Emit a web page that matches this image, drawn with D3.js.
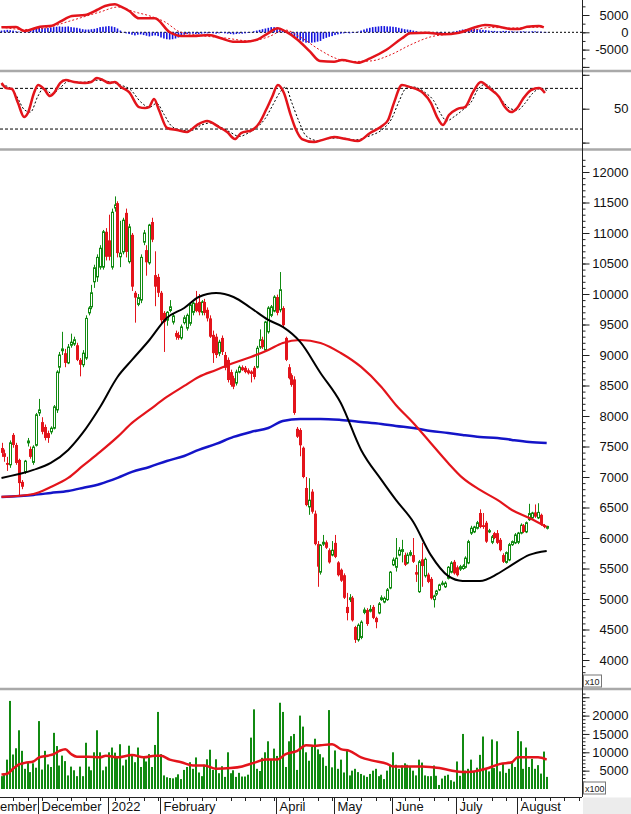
<!DOCTYPE html>
<html><head><meta charset="utf-8">
<script src="https://cdn.jsdelivr.net/npm/d3@7"></script>
<style>
body{margin:0;background:#fff}
svg{display:block}
text{font-family:"Liberation Sans",Arial,sans-serif}
</style>
</head><body>
<svg id="c" width="631" height="814"></svg>
<script>
// ---------- DATA ----------
const open=[7475,7390,7230,7200,7690,7525,7280,6920,7080,7560,7460,7240,7520,8050,7900,7820,7720,7740,7800,8100,8800,9070,9030,8870,9160,9180,9160,8920,8840,8950,9690,9790,10200,10280,10440,10440,11020,10880,10440,11410,11490,10610,10690,11330,10530,10970,10020,9830,9900,10850,10720,10510,11180,10310,10280,10020,9690,9570,9730,9540,9360,9330,9280,9530,9440,9520,9700,9850,9870,9700,9870,9740,9600,9330,9300,9030,9280,9000,8920,8720,8620,8540,8720,8800,8790,8750,8730,8790,8800,9130,9250,9080,9380,9650,9720,9950,9740,9770,9280,8800,8670,8600,7790,7770,7480,6820,6510,6760,6400,5900,5440,5900,5930,5800,5720,5920,5600,5480,5390,4870,4990,5020,4540,4330,4370,4780,4820,4800,4870,4690,4770,4990,4950,4990,5180,5560,5520,5720,5780,5720,5590,5720,5720,5440,5120,5650,5380,5400,5330,4990,5080,5150,5240,5200,5340,5440,5610,5520,5490,5500,5520,5590,6080,6100,6160,6410,6210,6250,6100,5930,6080,6080,5970,5720,5600,5640,5890,5920,5930,6080,6210,6100,6300,6330,6420,6330,6380,6210,6160];
const high=[7560,7450,7330,7600,7720,7560,7300,6950,7280,7640,7500,7520,8050,8280,7980,7860,7760,7830,8180,8750,9050,9380,9100,9180,9350,9300,9200,8950,9080,9650,9800,10150,10480,10650,10800,11050,11080,11300,11400,11600,11520,11200,11250,11400,11150,11000,10050,10000,10650,11050,10800,11150,11250,10700,10330,10050,9720,9720,9900,9680,9400,9380,9500,9650,9680,9850,9870,10050,10000,9900,9920,9780,9650,9400,9350,9250,9320,9050,8960,8760,8660,8760,8830,8830,8820,8780,8750,8820,9150,9420,9300,9560,9800,9820,9980,9990,10360,9800,9300,8850,8700,8650,7820,7800,7500,7000,6980,6800,6450,5950,5900,6050,5960,5830,5950,6050,5620,5500,5420,5100,5080,5050,4560,4600,4650,4860,4850,4900,4900,4710,4950,5060,5040,5180,5460,5680,6000,5850,5970,5760,5760,5800,6000,5560,5640,5920,5680,5430,5360,5070,5150,5250,5300,5290,5540,5620,5640,5550,5560,5570,5700,5970,6200,6200,6280,6470,6410,6280,6150,6050,6100,6130,6000,5750,5780,5920,5960,6080,6100,6240,6230,6270,6560,6430,6550,6570,6400,6230,6200];
const low=[7330,7250,7100,7150,7480,7200,6700,6800,7050,7500,7300,7200,7500,8000,7700,7600,7560,7700,7780,8050,8700,9000,8800,8850,9120,9150,8900,8650,8800,8920,9650,9750,10100,10200,10400,10400,10550,10550,10400,11350,10600,10440,10650,10600,10500,10050,9530,9800,9850,10800,10300,10480,10850,9800,9950,9500,9050,9480,9700,9500,9250,9250,9250,9500,9400,9480,9650,9700,9650,9650,9650,9550,9280,8870,8950,8980,9000,8750,8550,8480,8440,8500,8700,8740,8700,8680,8550,8600,8780,9100,9100,9050,9350,9620,9700,9650,9700,9450,8900,8600,8480,8020,7640,7340,6980,6520,6380,6400,5880,5200,5400,5870,5820,5580,5700,5670,5370,5280,5000,4650,4950,4630,4280,4300,4340,4750,4560,4780,4670,4520,4750,4970,4930,4970,5160,5540,5450,5700,5600,5540,5570,5700,5590,5280,5100,5200,5350,5260,4990,4860,5050,5130,5220,5180,5320,5420,5400,5370,5460,5480,5500,5570,6050,6080,6140,6160,6150,5920,6080,5900,5980,5900,5780,5590,5580,5620,5870,5900,5900,6060,6080,6080,6280,6310,6330,6310,6200,6160,6140];
const close=[7395,7330,7200,7560,7525,7230,6900,6840,7260,7590,7330,7490,8020,8100,7740,7640,7640,7800,8150,8720,9000,9100,8870,9130,9210,9250,8920,8840,9030,9600,9770,10020,10430,10600,10750,11020,10610,10610,11340,11460,10670,10670,11210,10690,11100,10120,9940,9940,10600,11000,10520,11130,10890,10120,10020,9570,9540,9700,9790,9640,9300,9280,9460,9610,9650,9820,9850,9720,9700,9870,9690,9600,9300,9030,9000,9210,9050,8790,8590,8510,8480,8720,8800,8750,8720,8700,8690,8640,9110,9250,9130,9540,9770,9790,9950,9690,10070,9490,8920,8620,8510,8050,7660,7520,7000,6540,6620,6430,5900,5530,5880,5930,5840,5600,5800,5690,5390,5300,5020,4770,5020,4650,4330,4570,4620,4820,4590,4830,4690,4620,4920,5020,5010,5150,5440,5640,5670,5800,5810,5560,5720,5760,5610,5400,5610,5540,5650,5280,5010,5050,5130,5230,5260,5260,5520,5590,5420,5390,5530,5540,5670,5940,6160,6180,6250,6180,6180,5940,6120,6020,6000,5920,5800,5610,5760,5890,5940,6050,6080,6210,6100,6250,6400,6410,6350,6420,6220,6180,6190];
const volume=[3500,4200,8000,24000,9400,11100,16000,10400,5500,7300,4600,7000,5800,18500,
5300,10400,6700,6000,15300,11700,6400,9100,7600,3700,6100,5100,3500,6100,3500,12600,6100,5100,10000,16000,10000,5100,6100,
10000,11300,9900,8600,12200,6400,8000,11800,9500,7300,11300,6000,8500,7500,9500,6000,12000,21000,
9500,3700,3200,3000,2900,3200,4000,2700,5200,6000,7300,5500,8600,4500,3500,6600,8100,10700,5200,8100,4300,
6200,3300,10000,4300,5100,3300,4400,3400,3400,3900,14000,21700,5500,4900,8500,10000,13000,8000,11000,
9000,23500,21000,6000,13000,14400,15000,5200,20000,17000,10000,7700,11500,13700,10800,9500,8600,6300,21500,5900,
10500,5500,8000,4500,10500,3700,5000,5500,4600,4100,3700,3300,4100,5000,5500,3500,3900,2700,5000,6600,
10000,6600,5500,6400,7000,6600,6000,5000,3700,8000,7200,3700,3500,3500,6400,3600,1100,2850,3600,3900,2400,2000,
7500,3600,15000,5000,5500,8000,4800,5800,9300,14300,5700,4800,13500,5700,13000,4800,7000,4400,5500,7500,6000,
15800,13000,5500,11300,6000,8200,5500,6500,4200,10200,3300];
// moving averages, read at these bar indices
const maIdx=[0,11,17,23,28,34,40,45,51,57,63,68,74,80,86,92,97,103,110,117,124,131,136,142,148,154,159,165,171,176,182,188];
const ma50=[6985,7116,7231,7444,7722,8148,8640,8919,9246,9607,9771,9951,10017,9951,9771,9574,9460,9214,8706,8214,7444,6952,6624,6263,5723,5378,5296,5296,5411,5559,5723,5788];
const ma100=[6673,6722,6837,6985,7181,7411,7657,7886,8099,8312,8493,8640,8755,8870,8968,9083,9197,9246,9197,9033,8804,8476,8181,7886,7558,7231,6985,6788,6624,6460,6329,6182];
const ma200=[6673,6706,6739,6772,6821,6886,6985,7083,7165,7263,7345,7444,7542,7657,7739,7804,7919,7952,7952,7935,7903,7870,7837,7804,7755,7722,7690,7657,7640,7608,7575,7558];
const volMaIdx=[0,2,4,6,8,11,13,16,18,20,22,24,26,30,34,36,40,45,49,53,55,58,62,66,70,74,79,83,87,91,95,98,102,105,108,110,114,117,120,124,128,133,135,140,145,151,155,159,163,167,172,176,178,183,185,188];
const volMa=[3920,4170,5520,6680,7120,7480,8630,9080,9520,10400,10850,9520,8810,8810,8630,9080,8630,9260,8630,9080,9080,8010,7300,6410,6410,5520,5700,6140,7120,8010,8010,9520,10400,11900,11750,11900,12200,10850,10400,8630,7740,6850,6140,6140,6140,5700,5070,4620,4800,5520,6850,7300,8630,8630,8630,8010];
// MACD
const macdIdx=[0,5,7.8,13.3,17.4,20.2,24.3,28.8,32.9,35.7,39.1,41.2,44,47.4,52.9,57.8,61.9,66,71.6,75.7,79.8,84,88.4,91.9,95.3,98.1,102.2,106.4,109.8,114.7,117.4,122.9,127.1,132.6,138.1,140.9,146.7,152.2,157.8,163.3,166.7,171.6,175.7,178.4,181.2,185.3,187];
const macdLine=[1445,1532,376,1618,1907,3063,4711,5000,6445,7601,8092,7398,6156,4046,4046,173,-1069,-1069,-780,-1734,-2717,-2717,-2023,-289,1156,173,-2225,-5607,-8294,-8497,-8005,-8786,-7514,-5115,-1734,-289,-116,-578,-116,1445,2110,1618,954,954,1618,1821,1445];
const signalIdx=[0,7.8,15,23.6,34,40.2,46,51.2,56.4,61.6,68.4,77.1,85.7,91.9,97.8,103,109.8,115,120.2,127.1,134,140.9,147.8,154.7,161.6,168.4,175.3,182.2,187];
const signalLine=[1532,809,1243,3266,5867,7312,5867,4711,2977,87,-925,-1647,-2514,-1358,665,-1358,-5115,-7427,-8439,-8294,-6560,-3670,-1358,-491,376,1387,1243,1387,1532];
const macdHist=[500,600,700,600,500,300,200,0,-150,100,400,900,1100,1300,1300,1200,1300,1400,
1500,1600,1700,1600,1600,1700,1500,1400,1300,1100,900,800,800,900,1000,1200,1500,1600,1700,1800,1700,1500,1100,
500,100,-300,-500,-700,-900,-700,-600,-800,-1000,-1200,-1000,-900,-1100,-1500,-1800,-2000,-2100,-2000,-1800,-1500,-1200,
-700,-500,-400,-400,-500,-500,-400,-300,-300,-200,-300,-400,-300,-200,-300,-400,-500,-600,-500,-400,-400,-300,-200,
100,300,500,700,900,1100,1300,1500,1500,1400,1200,700,100,-500,-900,-1300,-1700,-2300,-2700,-3000,-3100,-3000,-2900,-2700,-2500,
-1900,-1600,-1300,-1100,-800,-600,-400,-300,-200,-300,-200,-100,200,500,800,1100,1300,1500,1600,1700,
1800,1800,1700,1700,1600,1500,1300,1100,900,800,700,500,300,100,-200,-300,-400,-500,-400,-300,-200,
-100,-100,0,100,200,400,600,800,900,1000,1100,1000,900,800,700,600,500,400,400,300,300,400,400,
300,300,200,200,300,300,200,200,300,300,200,200,100,100];
// Stochastic
const stochKIdx=[0,1.6,3.6,5.7,7.8,9.1,11.2,12.6,14.7,16.7,18.1,20.2,22.2,25,28.8,30.9,32.9,35,37.1,39.1,41.2,44,47.4,49.5,50.9,52.6,54.3,57.1,60.5,64,67.4,70.9,75,77.8,80.5,82.6,86.4,89.1,91.2,93.3,95.3,97.4,99.5,101.6,103.6,107.8,110.5,114.7,118.8,122.9,127.1,131.2,133.3,135.3,138.1,140.9,145.4,148.1,150.2,152.2,154.3,157.1,159.8,162.6,165.3,168.1,171.6,173.6,175.7,177.8,179.8,182.6,185.3,187.4];
const stochK=[87.8,80.4,79,58.3,37.7,43.6,73.1,84.9,79,68.6,73.1,87.8,92.2,89.3,87.8,89.3,95.2,92.2,87.8,89.3,81.9,74.5,52.4,50.9,52.4,64.2,48,21.5,18.5,15.6,25.9,31.8,22.9,15.6,5.2,14.1,18.5,30.3,48,67.2,84.9,73.1,43.6,18.5,5.2,0.8,3.7,8.2,5.2,2.3,14.1,24.4,33.3,58.3,84.9,81.9,73.1,58.3,37.7,25.9,40.6,49.5,52.4,74.5,89.3,80.4,67.2,52.4,45,50.9,64.2,77.5,80.4,73.1];
const stochDIdx=[0,2.5,5,8,10,12.5,14.5,17.5,20,23,28,33,37,41,44.5,48,51,53.5,56,58.5,62,65.5,69,72,76,79,82,85,88,91,93.5,96,98,100,102.5,105,109,113,117,122,127,131.5,134.5,137,139.5,142,146,149,151.5,153.5,156,159,162,164.5,167,170,173,175.5,178,180.5,183,186,188];
const stochD=[85,82,70,48,45,68,80,72,80,90,89,92,90,85,78,60,52,58,42,25,18,18,26,29,22,15,9,14,22,36,55,74,82,60,32,10,3,6,7,4,10,20,35,60,80,82,74,62,42,32,38,48,60,80,86,76,60,50,48,58,72,80,77];
// axis ticks & labels
const priceTicks=[4000,4500,5000,5500,6000,6500,7000,7500,8000,8500,9000,9500,10000,10500,11000,11500,12000];
const volTicks=[5000,10000,15000,20000];
const macdTicks=[-5000,0,5000];
const stochTicks=[50];
// first label is the visible tail of the month name cut by the left edge
const monthLabels=["ember","December","2022","February","April","May","June","July","August"];
const monthStart=[-9,13,37,55,95,115,135,157,178];

// ---------- CHART ----------
const svg=d3.select("#c");
const W=631, axisX=582, red="#e3141b", green="#118a11";
const n=open.length;
const x=d3.scaleLinear().domain([0,n-1]).range([1.5,1.5+2.9*(n-1)]);
const yP=d3.scaleLinear().domain([4000,12000]).range([660,172]);
const yV=d3.scaleLinear().domain([0,20000]).range([789,715.6]);
const yM=d3.scaleLinear().domain([-5000,5000]).range([49.6,15]);
const yS=d3.scaleLinear().domain([0,100]).range([142.6,74.8]);

const defs=svg.append("defs");
function clip(id,y0,y1){defs.append("clipPath").attr("id",id).append("rect").attr("x",0).attr("y",y0).attr("width",axisX).attr("height",y1-y0);}
clip("cm",0,70);clip("cs",73,148);clip("cp",151,688);clip("cv",691,796);

// panel separators
[[71,"#a9a9a9",2.5],[149.5,"#a9a9a9",2.5],[689,"#a9a9a9",2.5]].forEach(([y,c,w])=>
  svg.append("line").attr("x1",0).attr("x2",W).attr("y1",y).attr("y2",y).attr("stroke",c).attr("stroke-width",w));
svg.append("rect").attr("x",axisX+1).attr("y",797.5).attr("width",W-axisX).attr("height",17).attr("fill","#ececec");

// ---- MACD panel ----
const gM=svg.append("g").attr("clip-path","url(#cm)");
gM.append("line").attr("x1",0).attr("x2",axisX).attr("y1",yM(0)).attr("y2",yM(0)).attr("stroke","#000").attr("stroke-dasharray","2,2");
gM.selectAll("rect.h").data(macdHist).join("rect").attr("class","h")
  .attr("x",(d,i)=>x(i)-0.8).attr("width",1.6)
  .attr("y",d=>Math.min(yM(d),yM(0))).attr("height",d=>Math.abs(yM(d)-yM(0)))
  .attr("fill","#1515e0");
const lineXY=(xs,sc)=>d3.line().x((d,i)=>x(xs[i])).y(d=>sc(d)).curve(d3.curveMonotoneX);
gM.append("path").attr("d",lineXY(signalIdx,yM)(signalLine)).attr("fill","none").attr("stroke",red).attr("stroke-width",1).attr("stroke-dasharray","2,2");
gM.append("path").attr("d",lineXY(macdIdx,yM)(macdLine)).attr("fill","none").attr("stroke",red).attr("stroke-width",2.5);

// ---- Stochastic panel ----
const gS=svg.append("g").attr("clip-path","url(#cs)");
[80,20].forEach(v=>gS.append("line").attr("x1",0).attr("x2",axisX).attr("y1",yS(v)).attr("y2",yS(v)).attr("stroke","#000").attr("stroke-dasharray","3,2"));
gS.append("path").attr("d",lineXY(stochDIdx,yS)(stochD)).attr("fill","none").attr("stroke","#000").attr("stroke-width",1).attr("stroke-dasharray","2,2");
gS.append("path").attr("d",lineXY(stochKIdx,yS)(stochK)).attr("fill","none").attr("stroke",red).attr("stroke-width",2.5);

// ---- Price panel ----
const gP=svg.append("g").attr("clip-path","url(#cp)");
const idx=d3.range(n);
gP.selectAll("line.w").data(idx).join("line").attr("class","w")
  .attr("x1",i=>Math.round(x(i))+0.5).attr("x2",i=>Math.round(x(i))+0.5)
  .attr("y1",i=>yP(high[i])).attr("y2",i=>yP(low[i]))
  .attr("stroke",i=>close[i]>=open[i]?green:red).attr("stroke-width",1);
gP.selectAll("rect.b").data(idx).join("rect").attr("class","b")
  .attr("x",i=>Math.round(x(i))-1+(close[i]>=open[i]?0.5:0))
  .attr("width",i=>close[i]>=open[i]?2:3)
  .attr("y",i=>yP(Math.max(open[i],close[i])))
  .attr("height",i=>Math.max(1,yP(Math.min(open[i],close[i]))-yP(Math.max(open[i],close[i]))))
  .attr("fill",i=>close[i]>=open[i]?"#fff":red)
  .attr("stroke",i=>close[i]>=open[i]?green:"none").attr("stroke-width",1);
[[ma200,"#1414c8",2.5],[ma100,red,2.2],[ma50,"#000",2]].forEach(([arr,c,w])=>
  gP.append("path").attr("d",lineXY(maIdx,yP)(arr)).attr("fill","none").attr("stroke",c).attr("stroke-width",w));

// ---- Volume panel ----
const gV=svg.append("g").attr("clip-path","url(#cv)");
gV.selectAll("rect.v").data(volume).join("rect").attr("class","v")
  .attr("x",(d,i)=>Math.round(x(i))-1).attr("width",2)
  .attr("y",d=>yV(d)).attr("height",d=>yV(0)-yV(d)).attr("fill",green);
gV.append("path").attr("d",lineXY(volMaIdx,yV)(volMa)).attr("fill","none").attr("stroke",red).attr("stroke-width",2.5);

// ---- Right axes ----
svg.append("line").attr("x1",axisX+0.5).attr("x2",axisX+0.5).attr("y1",0).attr("y2",797).attr("stroke","#222");
function axis(scale,major,minor,labels){
  const g=svg.append("g").attr("transform",`translate(${axisX+0.5},0)`);
  g.call(d3.axisRight(scale).tickValues(minor).tickSize(3).tickFormat(""));
  const g2=svg.append("g").attr("transform",`translate(${axisX+0.5},0)`);
  g2.call(d3.axisRight(scale).tickValues(major).tickSize(7).tickFormat(d=>labels.includes(d)?d:""));
  [g,g2].forEach(gg=>{gg.select(".domain").remove();gg.selectAll("line").attr("stroke","#222");});
  g2.selectAll("text").attr("x",46).attr("text-anchor","end").attr("fill","#111").style("font-size","13px").style("font-family","Liberation Sans, Arial");
}
axis(yP,priceTicks,d3.range(3800,12300,100),priceTicks);
axis(yV,[0,5000,10000,15000,20000,25000],d3.range(0,27000,1000),volTicks);
axis(yM,[-10000,-5000,0,5000,10000],d3.range(-10000,10001,2500),macdTicks);
axis(yS,[0,100],[0,100],[]);
axis(yS,[50],[50],stochTicks);

// multiplier boxes
[[675,18,"x10"],[782,22,"x100"]].forEach(([y,w,t])=>{
  svg.append("rect").attr("x",axisX+1.5).attr("y",y).attr("width",w).attr("height",12).attr("fill","#fff").attr("stroke","#777");
  svg.append("text").attr("x",axisX+3).attr("y",y+9.5).text(t).style("font-size","9px").attr("fill","#222");
});

// ---- X axis ----
svg.append("line").attr("x1",0).attr("x2",axisX).attr("y1",797.5).attr("y2",797.5).attr("stroke","#222");
const weekTicks=d3.range(-6,200,5);
svg.selectAll("line.wk").data(weekTicks).join("line").attr("class","wk")
  .attr("x1",d=>Math.round(x(d))+0.5).attr("x2",d=>Math.round(x(d))+0.5).attr("y1",797).attr("y2",801)
  .attr("stroke","#222").style("display",d=>x(d)<axisX?null:"none");
monthStart.forEach((m,k)=>{
  const sx=Math.round(x(m))-0.5;
  svg.append("line").attr("x1",sx).attr("x2",sx).attr("y1",797).attr("y2",814).attr("stroke","#222");
  svg.append("text").attr("x",Math.max(sx+3,0)).attr("y",811).text(monthLabels[k]).style("font-size","13px").attr("fill","#111");
});
</script>
</body></html>
